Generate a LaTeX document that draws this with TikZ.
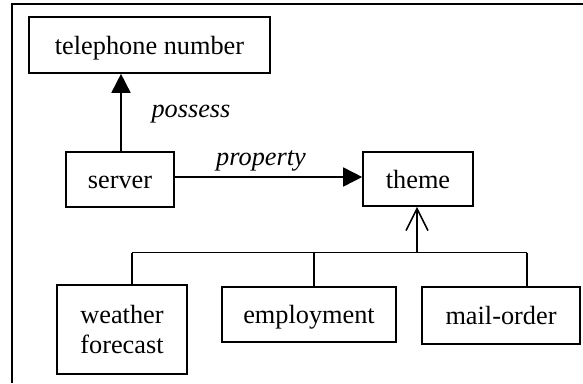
\documentclass[tikz,border=0pt]{standalone}
\usepackage{fontspec}
\setmainfont{Liberation Serif}
\usetikzlibrary{arrows.meta}
\begin{document}
\begin{tikzpicture}[x=1bp,y=-1bp,line width=1.6bp,
  box/.style={draw,rectangle,inner sep=0pt,align=center,
    font=\fontsize{26.3bp}{30bp}\selectfont},
  oneline/.style={text height=24.5bp,text depth=6bp},
  lbl/.style={font=\fontsize{26.3bp}{30bp}\selectfont\itshape,inner sep=0pt,anchor=base},
  solidhead/.style={-{Triangle[length=19bp,width=19bp]}},
  openhead/.style={-{Straight Barb[length=22bp,width=22bp,line width=1.6bp]}}]
\useasboundingbox (0,0) rectangle (583,383);
% frame edges
\draw (12,383) -- (12,4) -- (583,4);
% boxes
\node[box,oneline,minimum width=241bp,minimum height=56bp] (tel) at (149.5,45) {telephone number};
\node[box,oneline,minimum width=108bp,minimum height=55bp] (server) at (120,179.5) {server};
\node[box,oneline,minimum width=110bp,minimum height=54bp] (theme) at (418,179) {theme};
\node[box,minimum width=130bp,minimum height=89bp] (weather) at (122,329.5) {weather\\[-0.5bp]forecast};
\node[box,oneline,minimum width=174bp,minimum height=55bp] (employ) at (309,314.5) {employment};
\node[box,oneline,minimum width=158bp,minimum height=57bp] (mail) at (501,315.5) {mail-order};
% relations
\draw[solidhead] (server.north -| 121,0) -- (tel.south -| 121,0);
\node[lbl] (possess) at (191,117) {possess};
\draw[solidhead] (server.east |- 0,177) -- (theme.west |- 0,177);
\node[lbl] (property) at (261,165) {property};
% specialisation tree
\coordinate (j) at (417,252.5);
\coordinate (bl) at (132,252.5);
\coordinate (br) at (527,252.5);
\coordinate (bm) at (314,252.5);
\draw[openhead] (j) -- (theme.south -| j);
\draw (bl) -- (br);
\draw (bl) -- (weather.north -| bl);
\draw (bm) -- (employ.north -| bm);
\draw (br) -- (mail.north -| br);
\end{tikzpicture}
\end{document}
